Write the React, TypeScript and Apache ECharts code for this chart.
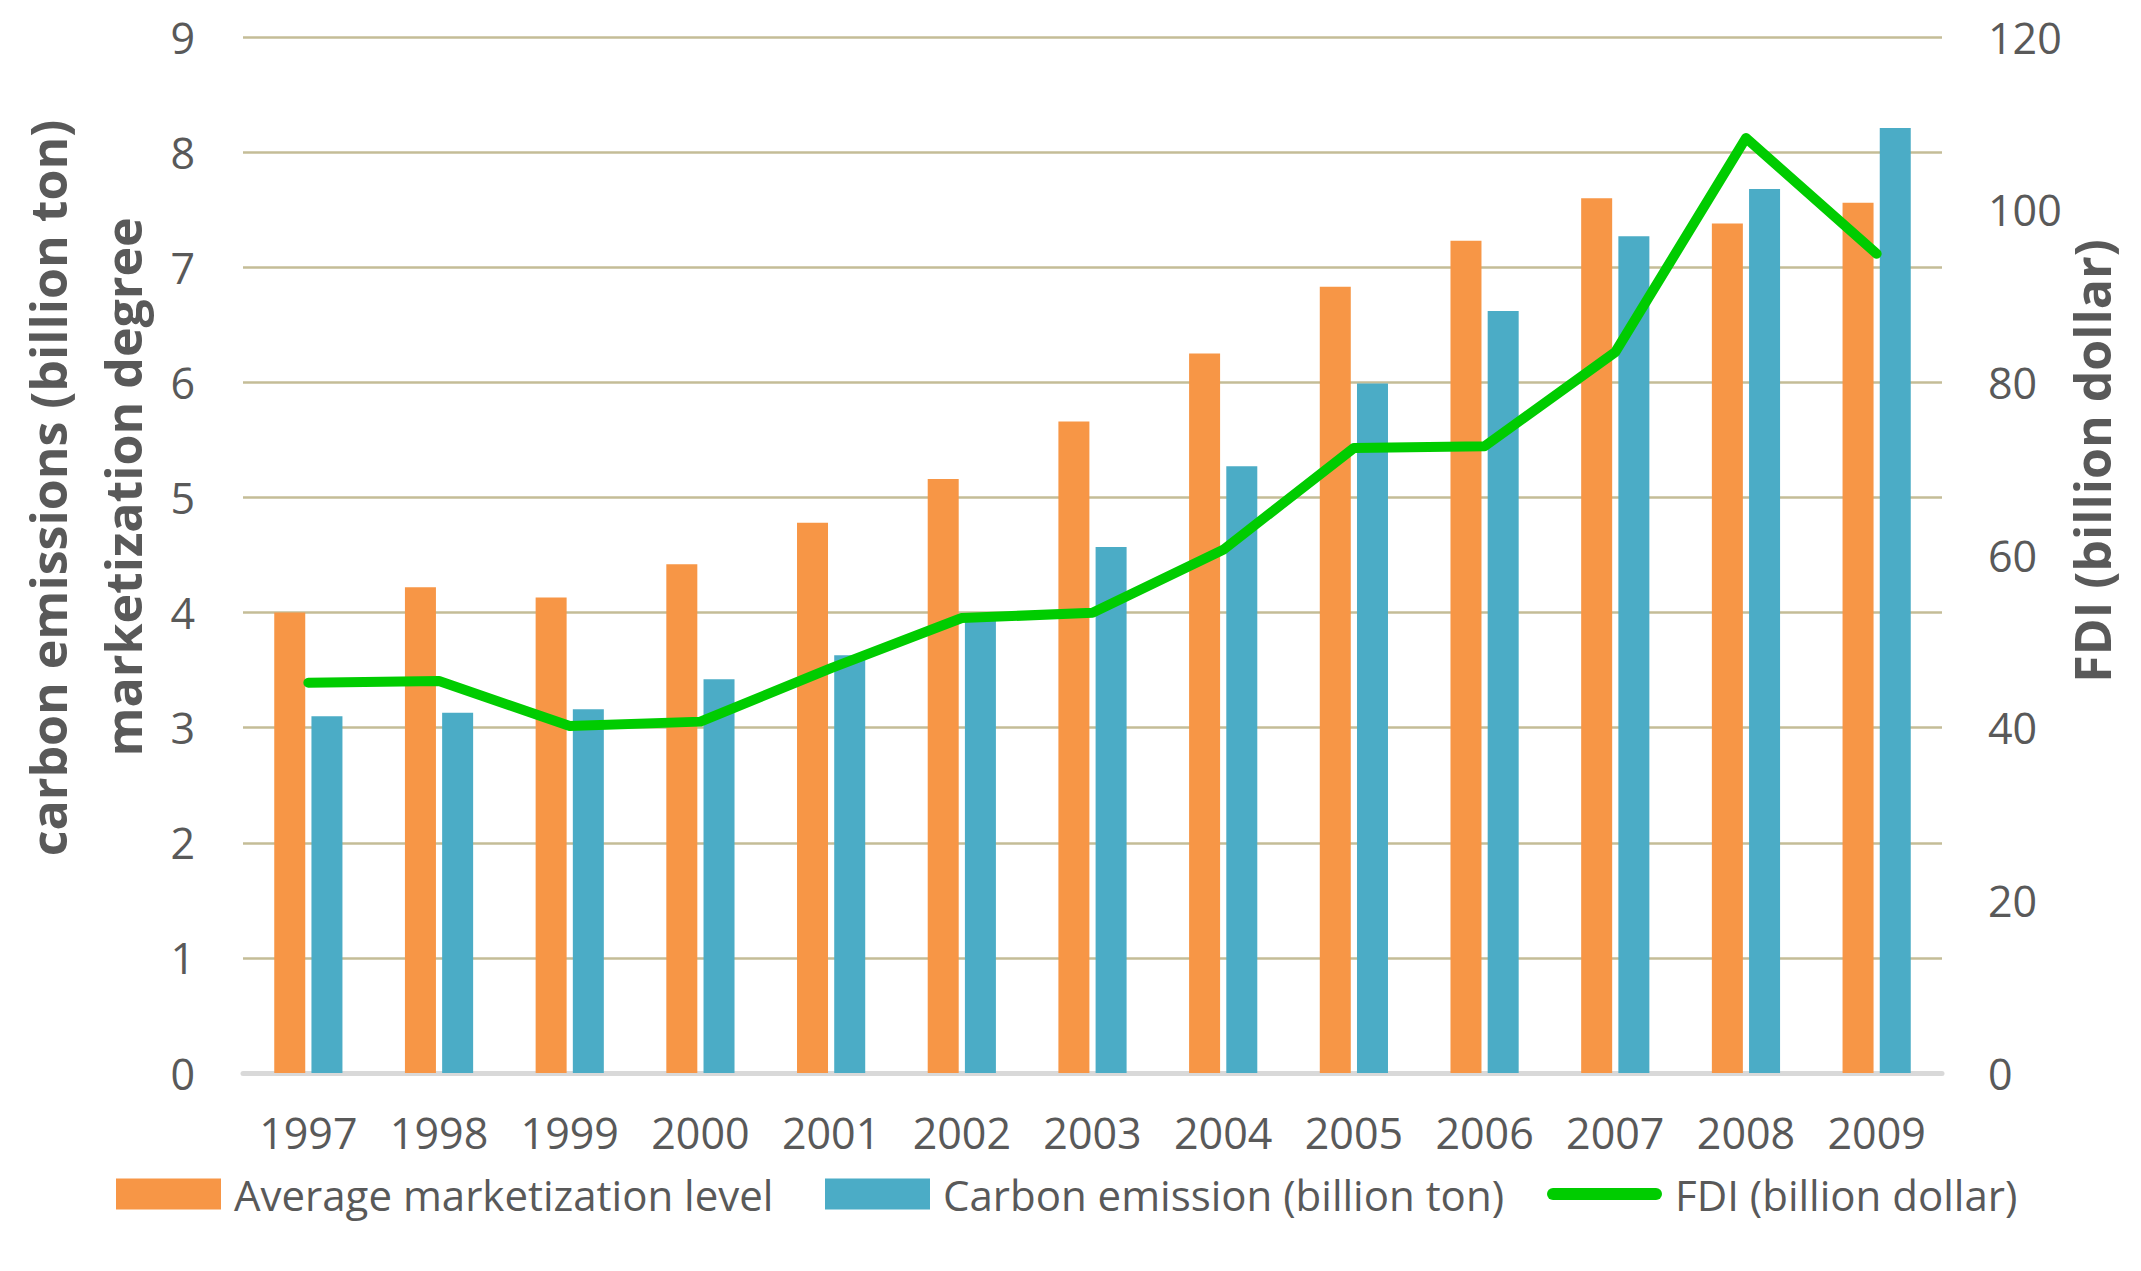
import { useEffect, useRef } from 'react'
import * as echarts from 'echarts'

const years = ['1997', '1998', '1999', '2000', '2001', '2002', '2003', '2004', '2005', '2006', '2007', '2008', '2009']
const marketization = [4.0, 4.22, 4.13, 4.42, 4.78, 5.16, 5.66, 6.25, 6.83, 7.23, 7.6, 7.38, 7.56]
const carbon = [3.1, 3.13, 3.16, 3.42, 3.63, 3.93, 4.57, 5.27, 5.99, 6.62, 7.27, 7.68, 8.21]
const fdi = [45.2, 45.4, 40.2, 40.7, 46.9, 52.7, 53.3, 60.6, 72.4, 72.6, 83.5, 108.3, 94.9]

const leftTicks = { min: 0, max: 9, interval: 1 }
const rightTicks = { min: 0, max: 120, interval: 20 }

const FONT = '"Open Sans", "Noto Sans", sans-serif'
const TEXT = '#595959'
const ORANGE = '#F79646'
const BLUE = '#4BACC6'
const GREEN = '#00CC00'

const NAMES = ['Average marketization level', 'Carbon emission (billion ton)', 'FDI (billion dollar)']

// thick line with round caps for the FDI legend entry
const lineIcon = 'path://M6,0 H109 A6,6 0 0 1 109,12 H6 A6,6 0 0 1 6,0 Z'

export default function App() {
  const chartRef = useRef<HTMLDivElement>(null)

  useEffect(() => {
    document.body.style.margin = '0'
    if (!chartRef.current) return
    const chart = echarts.init(chartRef.current, undefined, { renderer: 'svg' })

    const legendBase = {
      top: 1173,
      itemHeight: 31,
      padding: 0,
      textStyle: { fontSize: 42, color: TEXT, fontFamily: FONT, padding: [0, 0, 0, 8] },
    }

    const option: echarts.EChartsOption = {
      animation: false,
      backgroundColor: '#fff',
      textStyle: { fontFamily: FONT },
      grid: { left: 243, right: 199, top: 37, bottom: 198 },
      legend: [
        { ...legendBase, left: 116, itemWidth: 105, data: [{ name: NAMES[0], icon: 'rect' }] },
        { ...legendBase, left: 825, itemWidth: 105, data: [{ name: NAMES[1], icon: 'rect' }] },
        { ...legendBase, left: 1547, itemWidth: 115, data: [{ name: NAMES[2], icon: lineIcon }] },
      ],
      xAxis: {
        type: 'category',
        data: years,
        axisLine: { lineStyle: { color: '#D9D9D9', width: 5 } },
        axisTick: { show: false },
        axisLabel: { fontSize: 43, color: TEXT, margin: 38 },
      },
      yAxis: [
        {
          type: 'value',
          ...leftTicks,
          axisLine: { show: false },
          axisTick: { show: false },
          axisLabel: { fontSize: 43, color: TEXT, margin: 48 },
          splitLine: { lineStyle: { color: '#C4BD97', width: 2.5 } },
        },
        {
          type: 'value',
          ...rightTicks,
          position: 'right',
          axisLine: { show: false },
          axisTick: { show: false },
          axisLabel: { fontSize: 43, color: TEXT, margin: 46 },
          splitLine: { show: false },
        },
      ],
      series: [
        {
          name: NAMES[0],
          type: 'bar',
          data: marketization,
          barWidth: 31,
          barGap: '20%',
          itemStyle: { color: ORANGE },
        },
        {
          name: NAMES[1],
          type: 'bar',
          data: carbon,
          barWidth: 31,
          barGap: '20%',
          itemStyle: { color: BLUE },
        },
        {
          name: NAMES[2],
          type: 'line',
          yAxisIndex: 1,
          data: fdi,
          showSymbol: false,
          symbol: 'none',
          z: 5,
          itemStyle: { color: GREEN },
          lineStyle: { color: GREEN, width: 10, cap: 'round', join: 'round' },
        },
      ],
      graphic: [
        {
          type: 'text',
          x: 48,
          y: 488,
          rotation: Math.PI / 2,
          style: {
            text: 'carbon emissions (billion ton)',
            font: `bold 50px ${FONT}`,
            fill: TEXT,
            align: 'center',
            verticalAlign: 'middle',
          },
        },
        {
          type: 'text',
          x: 123,
          y: 487,
          rotation: Math.PI / 2,
          style: {
            text: 'marketization degree',
            font: `bold 50px ${FONT}`,
            fill: TEXT,
            align: 'center',
            verticalAlign: 'middle',
          },
        },
        {
          type: 'text',
          x: 2092,
          y: 461,
          rotation: Math.PI / 2,
          style: {
            text: 'FDI (billion dollar)',
            font: `bold 50px ${FONT}`,
            fill: TEXT,
            align: 'center',
            verticalAlign: 'middle',
          },
        },
      ],
    }

    chart.setOption(option)
    return () => chart.dispose()
  }, [])

  return <div ref={chartRef} style={{ width: 2141, height: 1271 }} />
}
